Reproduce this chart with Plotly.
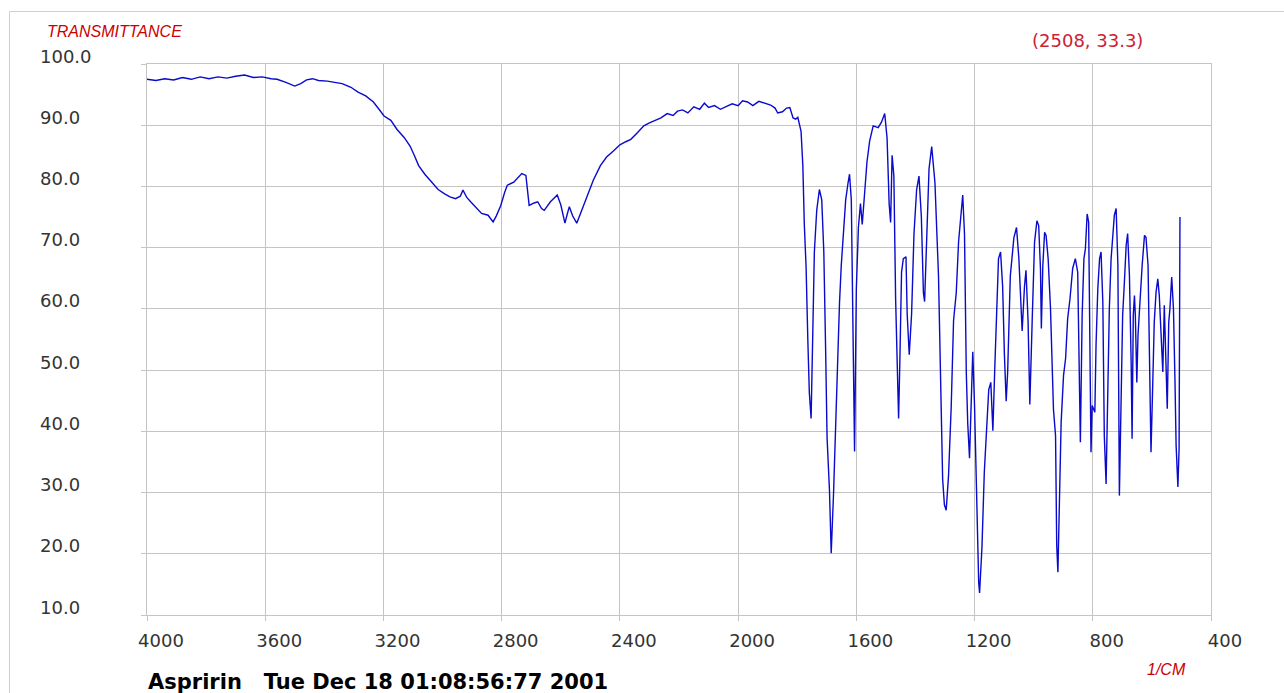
import plotly.graph_objects as go

# ---- data ----
wavenumber = [
    4000, 3970, 3940, 3910, 3880, 3850, 3820, 3790, 3760, 3730, 3700, 3670, 3640, 3610, 3580, 3560,
    3530, 3500, 3480, 3460, 3440, 3420, 3390, 3360, 3340, 3310, 3286, 3260, 3234, 3215, 3198, 3175,
    3154, 3130, 3110, 3095, 3081, 3060, 3037, 3015, 2993, 2975, 2956, 2940, 2931, 2918, 2905, 2885,
    2868, 2846, 2829, 2818, 2803, 2790, 2781, 2759, 2745, 2732, 2718, 2712, 2707, 2690, 2678, 2665,
    2656, 2635, 2612, 2600, 2586, 2578, 2571, 2560, 2546, 2530, 2510, 2490, 2466, 2445, 2422, 2400,
    2380, 2363, 2340, 2319, 2300, 2280, 2261, 2240, 2220, 2205, 2188, 2170, 2150, 2130, 2114, 2100,
    2080, 2060, 2041, 2020, 2000, 1985, 1968, 1950, 1930, 1910, 1890, 1875, 1866, 1850, 1836, 1825,
    1814, 1805, 1798, 1787, 1781, 1776, 1770, 1764, 1759, 1753, 1747, 1742, 1734, 1725, 1717, 1710,
    1704, 1699, 1691, 1685, 1677, 1670, 1662, 1657, 1651, 1643, 1636, 1628, 1623, 1617, 1611, 1606,
    1600, 1593, 1586, 1580, 1572, 1564, 1555, 1543, 1526, 1515, 1504, 1496, 1489, 1484, 1479, 1473,
    1467, 1462, 1457, 1453, 1447, 1441, 1432, 1428, 1421, 1413, 1405, 1396, 1388, 1380, 1373, 1369,
    1362, 1354, 1345, 1334, 1322, 1313, 1308, 1302, 1296, 1288, 1279, 1271, 1262, 1254, 1246, 1240,
    1234, 1228, 1223, 1217, 1210, 1206, 1200, 1192, 1186, 1183, 1175, 1167, 1160, 1152, 1145, 1138,
    1132, 1124, 1119, 1112, 1105, 1099, 1093, 1088, 1079, 1067, 1058, 1050, 1042, 1039, 1031, 1026,
    1019, 1013, 1005, 997, 989, 983, 977, 974, 969, 963, 958, 951, 943, 937, 933, 926,
    922, 918, 913, 907, 899, 892, 885, 877, 868, 859, 851, 845, 842, 836, 830, 825,
    819, 814, 809, 806, 802, 798, 793, 789, 783, 777, 772, 766, 761, 755, 749, 744,
    738, 732, 727, 721, 715, 710, 704, 699, 693, 687, 682, 676, 670, 667, 663, 659,
    656, 651, 647, 640, 633, 625, 620, 613, 608, 603, 597, 592, 586, 580, 575, 569,
    563, 558, 552, 548, 543, 539, 533, 527, 522, 518, 512, 508, 505,
]
transmittance = [
    97.5, 97.3, 97.6, 97.4, 97.8, 97.5, 97.9, 97.6, 97.9, 97.7, 98.0, 98.2, 97.8, 97.9, 97.6, 97.5,
    97.0, 96.4, 96.8, 97.4, 97.6, 97.3, 97.2, 96.9, 96.8, 96.2, 95.4, 94.8, 93.8, 92.6, 91.5, 90.8,
    89.3, 88.0, 86.6, 85.0, 83.4, 82.0, 80.7, 79.5, 78.8, 78.3, 78.0, 78.4, 79.4, 78.2, 77.5, 76.5,
    75.6, 75.3, 74.2, 75.2, 76.9, 79.0, 80.2, 80.7, 81.5, 82.1, 81.8, 79.0, 76.9, 77.3, 77.5, 76.4,
    76.1, 77.5, 78.6, 77.0, 74.0, 75.5, 76.7, 75.2, 74.0, 76.0, 78.6, 81.0, 83.4, 84.8, 85.8, 86.8,
    87.3, 87.7, 88.8, 89.9, 90.4, 90.8, 91.2, 91.9, 91.6, 92.3, 92.5, 92.0, 93.0, 92.6, 93.6, 92.9,
    93.2, 92.6, 93.0, 93.5, 93.2, 94.0, 93.8, 93.2, 93.9, 93.6, 93.3, 92.8, 92.0, 92.2, 92.8, 92.9,
    91.2, 91.0, 91.3, 89.0, 83.4, 73.8, 66.8, 54.7, 46.3, 42.1, 59.2, 69.3, 76.1, 79.5, 77.8, 69.3,
    53.6, 39.0, 30.5, 20.1, 30.0, 41.8, 53.0, 60.9, 67.1, 73.3, 77.8, 80.6, 82.0, 77.8, 50.2, 36.7,
    63.2, 73.3, 77.2, 73.8, 78.9, 84.0, 87.4, 89.9, 89.6, 90.5, 91.9, 87.9, 77.2, 74.1, 85.1, 81.7,
    61.5, 49.7, 42.1, 50.8, 66.0, 68.2, 68.5, 59.2, 52.5, 59.2, 72.2, 79.5, 81.7, 75.0, 62.6, 61.2,
    72.2, 82.9, 86.5, 80.6, 65.4, 46.8, 32.2, 28.0, 27.1, 32.8, 44.0, 58.1, 62.6, 71.0, 76.1, 78.6,
    72.2, 49.7, 41.2, 35.6, 46.8, 53.0, 44.0, 26.0, 15.3, 13.6, 21.0, 33.3, 40.6, 46.8, 48.0, 40.1,
    49.7, 63.7, 68.2, 69.3, 63.7, 52.5, 44.9, 49.7, 65.4, 71.6, 73.3, 68.2, 58.1, 56.4, 63.7, 66.3,
    58.1, 44.4, 58.1, 70.9, 74.4, 73.6, 66.6, 56.8, 67.1, 72.5, 72.0, 68.2, 60.0, 50.2, 43.6, 39.3,
    21.4, 17.0, 31.2, 41.5, 49.1, 51.9, 58.4, 61.7, 66.6, 68.2, 66.0, 45.3, 38.2, 58.9, 68.2, 69.8,
    75.5, 74.2, 53.5, 36.6, 44.2, 43.7, 43.1, 54.0, 63.3, 68.2, 69.3, 61.1, 39.3, 31.4, 48.0, 60.0,
    68.2, 72.5, 75.3, 76.4, 67.1, 29.5, 42.6, 58.9, 64.4, 70.4, 72.3, 65.5, 50.8, 38.8, 58.9, 62.2,
    58.9, 48.0, 55.7, 62.2, 67.1, 72.0, 71.7, 67.1, 50.8, 36.6, 48.0, 57.8, 62.7, 64.9, 62.2, 55.7,
    49.7, 60.6, 48.0, 43.7, 57.8, 60.0, 65.2, 60.0, 48.6, 37.7, 30.9, 37.2, 75.0,
]

x_ticks = [4000, 3600, 3200, 2800, 2400, 2000, 1600, 1200, 800, 400]
y_ticks = [100, 90, 80, 70, 60, 50, 40, 30, 20, 10]
y_tick_labels = ["%.1f" % v for v in y_ticks]

y_title = "TRANSMITTANCE"
x_title = "1/CM"
cursor_text = "(2508, 33.3)"
caption = "Aspririn\u00a0\u00a0\u00a0Tue Dec 18 01:08:56:77 2001"

# ---- figure ----
W, H = 1284, 693
L, R, T, B = 147, 73, 64, 78
pw, ph = W - L - R, H - T - B

def px(xp):
    return (xp - L) / pw

def py(yp):
    return (H - B - yp) / ph

GRID = "#c4c4c4"
RED = "#cc0000"
TICKFONT = dict(family="DejaVu Sans", size=18, color="#333333")

fig = go.Figure()
fig.add_trace(go.Scatter(
    x=wavenumber, y=transmittance, mode="lines",
    line=dict(color="#0a0acc", width=1.4), hoverinfo="skip", showlegend=False,
))

annotations = []
for v, lab in zip(y_ticks, y_tick_labels):
    annotations.append(dict(
        x=px(38), xref="paper", y=v, yref="y", text=lab, showarrow=False,
        xanchor="left", yanchor="middle", yshift=8, font=TICKFONT,
    ))
annotations += [
    dict(x=px(45), y=py(32), xref="paper", yref="paper", text=y_title, showarrow=False,
         xanchor="left", yanchor="middle",
         font=dict(family="Liberation Sans", size=16, color=RED, style="italic")),
    dict(x=px(1030), y=py(40), xref="paper", yref="paper", text=cursor_text, showarrow=False,
         xanchor="left", yanchor="middle",
         font=dict(family="DejaVu Sans", size=18, color="#cc2233")),
    dict(x=px(1145), y=py(669), xref="paper", yref="paper", text=x_title, showarrow=False,
         xanchor="left", yanchor="middle",
         font=dict(family="Liberation Sans", size=16, color=RED, style="italic")),
    dict(x=px(146), y=py(682), xref="paper", yref="paper", text="<b>" + caption + "</b>",
         showarrow=False, xanchor="left", yanchor="middle",
         font=dict(family="DejaVu Sans", size=21, color="#000000")),
]

fig.update_layout(
    width=W, height=H,
    margin=dict(l=L, r=R, t=T, b=B, pad=0),
    paper_bgcolor="white", plot_bgcolor="white",
    showlegend=False,
    annotations=annotations,
    shapes=[dict(type="rect", xref="paper", yref="paper",
                 x0=px(9.5), x1=px(1300), y0=py(710), y1=py(11.5),
                 line=dict(color="#cfcfcf", width=1), fillcolor="rgba(0,0,0,0)", layer="below")],
)
fig.update_xaxes(
    range=[4000, 400], tickmode="array", tickvals=x_ticks,
    ticktext=[str(v) for v in x_ticks],
    showgrid=True, gridcolor=GRID, gridwidth=1,
    showline=True, linecolor=GRID, linewidth=1, mirror=True,
    ticks="outside", ticklen=5, tickcolor=GRID,
    tickfont=TICKFONT, ticklabelshift=-14, ticklabelstandoff=4,
    zeroline=False,
)
fig.update_yaxes(
    range=[10, 100], tickmode="array", tickvals=y_ticks,
    showticklabels=False,
    showgrid=True, gridcolor=GRID, gridwidth=1,
    showline=True, linecolor=GRID, linewidth=1, mirror=True,
    ticks="outside", ticklen=5, tickcolor=GRID,
    zeroline=False,
)

fig.write_html(
    "out.html",
    config={"displayModeBar": False},
    post_script="document.body.style.margin='0';document.body.style.overflow='hidden';",
)
